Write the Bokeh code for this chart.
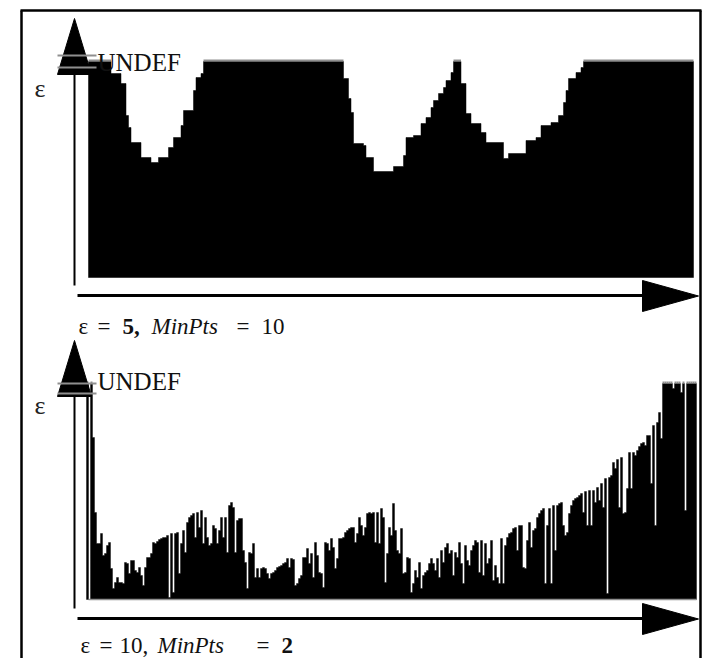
from bokeh.plotting import figure
from bokeh.models import Range1d
from bokeh.core.properties import value
from bokeh.embed import file_html
from bokeh.resources import INLINE

U = None  # UNDEF reachability

# ---------------- data ----------------
# Top panel (eps = 5, MinPts = 10): step profile, segment end (object order) and reachability
top_seg_end = [9, 13, 15, 16, 17, 21, 25, 28, 32, 34, 37, 38, 42, 43, 45, 46,
               102, 104, 105, 106, 110, 111, 114, 122, 126, 127, 130, 133, 135, 137,
               138, 140, 142, 143, 145, 146, 149, 151, 153, 157, 159, 166, 168, 175,
               179, 181, 185, 188, 190, 191, 192, 195, 197, 198, 242]
top_reach = [U, 204, 194, 162, 150, 135, 120, 115, 120, 130, 140, 152, 167, 187, 200, 204,
             U, 199, 179, 165, 134, 132, 120, 106, 111, 122, 140, 142, 154, 160,
             170, 177, 184, 190, 197, 205, U, 194, 164, 154, 145, 135, 119, 124,
             137, 140, 152, 155, 162, 175, 187, 199, 205, 210, U]

# Bottom panel (eps = 10, MinPts = 2): one reachability value per object
bottom_reach = [
    U, 0, U, 162, 87, 56, 56, 66, 44, 46, 54, 57, 31, 11, 17, 22, 17, 17, 16, 37,
    36, 26, 39, 39, 29, 27, 32, 24, 14, 32, 42, 42, 46, 57, 56, 58, 60, 61, 62, 62,
    64, 2, 66, 7, 66, 67, 26, 56, 69, 47, 77, 82, 84, 86, 62, 87, 72, 89, 56, 82,
    62, 54, 56, 74, 71, 56, 69, 82, 62, 82, 47, 94, 97, 92, 47, 79, 81, 81,
    49, 37, 11, 47, 46, 56, 22, 31, 22, 31, 32, 31, 26, 21, 26, 27, 29, 32, 33, 34,
    36, 37, 41, 32, 41, 40, 14, 16, 21, 24, 42, 42, 51, 36, 46, 22, 57, 44, 27, 26,
    12, 57, 56, 49, 61, 52, 31, 41, 61, 61, 62, 67, 69, 71, 72, 72, 57, 66, 82, 74,
    64, 72, 86, 87, 86, 87, 57, 87, 56, 91, 82, 17, 46, 72, 64, 96, 69,
    49, 46, 71, 26, 27, 42, 41, 7, 16, 29, 22, 37, 11, 24, 27, 29, 36, 41, 36, 29,
    41, 22, 49, 37, 52, 56, 46, 49, 24, 47, 42, 57, 36, 16, 54, 39, 34, 49, 54, 59,
    57, 27, 59, 24, 56, 36, 41, 59, 19, 34, 22, 16, 61, 16, 54, 62, 66, 67, 71, 72,
    49, 74, 74, 32, 31, 59, 77, 52, 69, 71, 82, 86, 89, 91, 16, 74, 91,
    16, 94, 49, 94, 96, 97, 74, 64, 67, 86, 94, 99, 101, 102, 104, 106, 87, 108, 74, 109,
    74, 109, 97, 112, 99, 116, 92, 121, 6, 122, 124, 137, 131, 140, 92, 142, 86, 87, 111, 147,
    111, 147, 144, 149, 153, 156, 157, 154, 164, 164, 116, 174, 74, 177, 187, 161, U, U, U, U,
    U, 211, U, U, U, 207, U, 89, U, U, U, U, U]

undef_label = "UNDEF"
axis_label = "ε"
top_caption = ["ε", "=", "5,", "MinPts", "=", "10"]
top_caption_style = ["normal", "normal", "bold", "italic", "normal", "normal"]
bottom_caption = ["ε", "=", "10,", "MinPts", "=", "2"]
bottom_caption_style = ["normal", "normal", "normal", "italic", "normal", "bold"]

# ---------------- layout ----------------
W, H = 704, 658
PX0, PY0 = 0, 0
UNDEF_LEVEL = 216                      # drawn height of UNDEF bars
FONT = value("Liberation Serif")
GRAY = "#8f8f8f"

p = figure(width=W, height=H, output_backend="svg", toolbar_location=None,
           x_range=Range1d(PX0, PX0 + W), y_range=Range1d(PY0 + H, PY0),
           x_axis_type=None, y_axis_type=None, min_border=0)
p.outline_line_color = None
p.background_fill_color = "white"
p.border_fill_color = "white"

# panel anchors (page pixels): object 0 left edge, pixels per object, baseline
T_X, T_DX, T_BASE = 88, 2.5, 277
B_X, B_DX, B_BASE = 86, 2.0, 599

def xr(x0, dx):
    return Range1d((PX0 - x0) / dx, (PX0 + W - x0) / dx)

def yr(base):
    return Range1d(base - (PY0 + H), base - PY0)

p.extra_x_ranges = {"ti": xr(T_X, T_DX), "bi": xr(B_X, B_DX)}
p.extra_y_ranges = {"tv": yr(T_BASE), "bv": yr(B_BASE)}

def step_outline(lefts, rights, heights):
    xs, ys = [lefts[0]], [0]
    for l, r, h in zip(lefts, rights, heights):
        xs += [l, r]
        ys += [h, h]
    xs.append(rights[-1])
    ys.append(0)
    return xs, ys

# ---- top bars
lefts = [0] + top_seg_end[:-1]
tops = [UNDEF_LEVEL if v is None else v for v in top_reach]
txs, tys = step_outline(lefts, top_seg_end, tops)
p.patch(x=txs, y=tys, x_range_name="ti", y_range_name="tv",
        fill_color="black", line_color="black", line_width=0.5)
ul = [l for l, v in zip(lefts, top_reach) if v is None]
ur = [r for r, v in zip(top_seg_end, top_reach) if v is None]
p.segment(x0=ul, x1=ur, y0=UNDEF_LEVEL + 1, y1=UNDEF_LEVEL + 1,
          x_range_name="ti", y_range_name="tv", line_color=GRAY, line_width=2)

# ---- bottom bars
bl = list(range(len(bottom_reach)))
br = [i + 1 for i in bl]
btops = [UNDEF_LEVEL if v is None else v for v in bottom_reach]
bxs, bys = step_outline(bl, br, btops)
p.patch(x=bxs, y=bys, x_range_name="bi", y_range_name="bv",
        fill_color="black", line_color="black", line_width=0.4)
bul = [i for i, v in zip(bl, bottom_reach) if v is None]
p.segment(x0=bul, x1=[i + 1 for i in bul], y0=UNDEF_LEVEL + 1, y1=UNDEF_LEVEL + 1,
          x_range_name="bi", y_range_name="bv", line_color=GRAY, line_width=2)
p.line(x=[1, len(bottom_reach)], y=[0, 0], x_range_name="bi", y_range_name="bv",
       line_color=GRAY, line_width=1.5)

# ---- frame
p.line(x=[21, 21], y=[PY0 + H, 10], line_color="black", line_width=2.5)
p.line(x=[20, 701], y=[10, 10], line_color="black", line_width=2.5)
p.line(x=[700, 700], y=[10, PY0 + H], line_color="black", line_width=2.5)

# ---- decorations for each panel
def panel_axes(apex_y, tick_y, axis_bottom, haxis_y, undef_base, eps_base, cap_base,
               caption, styles, cap_x):
    p.line(x=[74, 74], y=[apex_y + 40, axis_bottom], line_color="black", line_width=2)
    p.patch(x=[74, 57, 91], y=[apex_y, apex_y + 56, apex_y + 56], fill_color="black",
            line_color="black", line_width=1)
    for ty in tick_y:
        p.line(x=[57, 96], y=[ty, ty], line_color=GRAY, line_width=2)
    p.text(x=[97], y=[undef_base], text=[undef_label], text_font=FONT,
           text_font_size=value("25px"), text_baseline="alphabetic", text_color="#111111")
    p.text(x=[34], y=[eps_base], text=[axis_label], text_font=FONT,
           text_font_size=value("26px"), text_baseline="alphabetic", text_color="#222222")
    p.line(x=[77, 645], y=[haxis_y, haxis_y], line_color="black", line_width=3)
    p.patch(x=[642, 642, 698], y=[haxis_y - 15, haxis_y + 16, haxis_y + 0.5],
            fill_color="black", line_color="black", line_width=1)
    for t, s, x in zip(caption, styles, cap_x):
        p.text(x=[x], y=[cap_base], text=[t], text_font=FONT, text_font_style=s,
               text_font_size=value("23px"), text_baseline="alphabetic",
               text_color="#111111")

panel_axes(18, [55, 67], 285, 295, 62, 88, 326,
           top_caption, top_caption_style, [78, 97, 122, 151, 236, 261])
panel_axes(340, [383, 393], 608, 618, 381, 405, 645,
           bottom_caption, bottom_caption_style, [80, 99, 119, 157, 256, 281])

open("out.html", "w").write(file_html(p, INLINE))
